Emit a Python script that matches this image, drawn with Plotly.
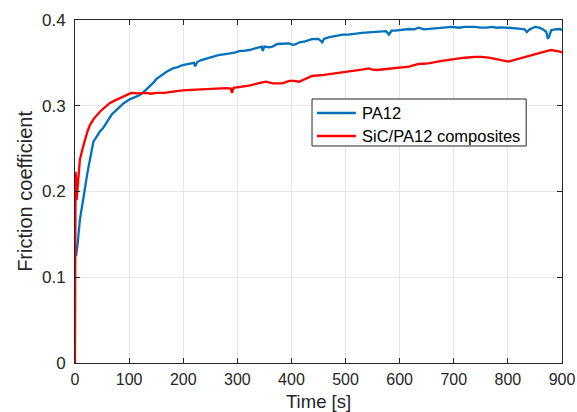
import plotly.graph_objects as go

# Friction coefficient vs. sliding time
t_pa12 = [2, 5, 9, 13, 18, 23, 28, 31, 34, 40, 46, 52, 58, 63, 68, 75, 83, 90, 101, 110,
          118, 125, 132, 138, 145, 150, 160, 170, 181, 190, 199, 210, 220, 222, 226, 232,
          242, 255, 265, 275, 285, 295, 305, 312, 322, 335, 345, 347, 350, 359, 365, 374,
          385, 396, 402, 407, 415, 425, 438, 450, 457, 460, 470, 482, 495, 505, 515, 530,
          543, 555, 565, 575, 580, 585, 592, 605, 617, 627, 635, 645, 653, 665, 675, 685,
          696, 710, 720, 730, 739, 750, 760, 770, 780, 788, 800, 810, 820, 831, 835, 840,
          850, 858, 865, 871, 874, 877, 880, 887, 896, 900]
mu_pa12 = [0.125, 0.14, 0.167, 0.185, 0.202, 0.222, 0.24, 0.252, 0.258, 0.264, 0.27, 0.274,
           0.28, 0.285, 0.29, 0.294, 0.299, 0.303, 0.3075, 0.31, 0.312, 0.315, 0.319, 0.323,
           0.327, 0.331, 0.336, 0.34, 0.3435, 0.345, 0.3475, 0.349, 0.35, 0.346, 0.351, 0.353,
           0.355, 0.357, 0.359, 0.36, 0.361, 0.362, 0.364, 0.364, 0.365, 0.367, 0.369, 0.364,
           0.369, 0.368, 0.369, 0.372, 0.372, 0.3727, 0.371, 0.3715, 0.374, 0.375, 0.3778,
           0.378, 0.374, 0.378, 0.38, 0.3817, 0.383, 0.383, 0.384, 0.385, 0.3855, 0.386,
           0.387, 0.387, 0.383, 0.3875, 0.3876, 0.389, 0.3895, 0.389, 0.391, 0.389, 0.3895,
           0.39, 0.391, 0.391, 0.392, 0.391, 0.392, 0.392, 0.392, 0.391, 0.391, 0.392, 0.391,
           0.3915, 0.391, 0.391, 0.39, 0.389, 0.386, 0.389, 0.392, 0.391, 0.389, 0.386, 0.378,
           0.382, 0.388, 0.389, 0.3895, 0.388]

t_sic = [0, 0.5, 1, 2, 3, 5, 9, 14, 18, 23, 27.6, 35, 46, 55, 64, 73, 83, 92, 104, 115,
         120, 132, 140, 150, 165, 181, 190, 199, 215, 230, 242, 255, 265, 280, 288, 290,
         293, 305, 322, 340, 353, 365, 374, 383, 396, 405, 414, 425, 438, 460, 482, 500,
         512, 530, 543, 550, 558, 575, 592, 605, 617, 635, 653, 675, 696, 720, 740, 751,
         765, 776, 790, 801, 815, 831, 850, 868, 880, 890, 896, 900]
mu_sic = [0.0, 0.10, 0.223, 0.215, 0.19, 0.205, 0.237, 0.25, 0.26, 0.27, 0.2775, 0.285,
          0.293, 0.298, 0.303, 0.306, 0.309, 0.312, 0.315, 0.3145, 0.3145, 0.315, 0.314,
          0.315, 0.315, 0.3165, 0.317, 0.318, 0.3185, 0.319, 0.3195, 0.3195, 0.32, 0.3205,
          0.32, 0.315, 0.321, 0.322, 0.3235, 0.3265, 0.328, 0.326, 0.326, 0.326, 0.329,
          0.329, 0.328, 0.331, 0.3347, 0.336, 0.3378, 0.339, 0.3405, 0.342, 0.3435, 0.342,
          0.3417, 0.343, 0.3435, 0.345, 0.3455, 0.3487, 0.3495, 0.352, 0.354, 0.356, 0.357,
          0.357, 0.356, 0.355, 0.353, 0.3514, 0.354, 0.357, 0.36, 0.363, 0.365, 0.364,
          0.363, 0.362]

x_ticks = [0, 100, 200, 300, 400, 500, 600, 700, 800, 900]
y_ticks = [0, 0.1, 0.2, 0.3, 0.4]
y_tick_text = ["0", "0.1", "0.2", "0.3", "0.4"]

series_names = ["PA12", "SiC/PA12 composites"]
series_colors = ["#0072BD", "#FF0000"]

FONT = "Liberation Sans, Arial, Helvetica, sans-serif"
AXIS_COLOR = "#262626"
LINE_W = 2.3

fig = go.Figure()
for t, mu, name, color in zip([t_pa12, t_sic], [mu_pa12, mu_sic], series_names, series_colors):
    fig.add_trace(go.Scatter(x=t, y=mu, mode="lines", name=name,
                             line=dict(color=color, width=LINE_W), showlegend=False))

axis_common = dict(
    showline=True, linecolor=AXIS_COLOR, linewidth=1, mirror="allticks",
    ticks="inside", ticklen=5, tickcolor=AXIS_COLOR,
    showgrid=True, gridcolor="#e6e6e6", gridwidth=1,
    zeroline=False, automargin=False, ticklabeloverflow="allow",
)

# Boxed legend in the upper-middle of the axes (paper coordinates)
LEG_X0, LEG_X1 = 0.4867, 0.9264
LEG_Y0, LEG_Y1 = 0.6327, 0.7697
SAMPLE_X0, SAMPLE_X1 = 0.4969, 0.5767
TEXT_X = 0.5849
ROW_Y = [0.7289, 0.6618]

shapes = [dict(type="rect", xref="paper", yref="paper",
               x0=LEG_X0, x1=LEG_X1, y0=LEG_Y0, y1=LEG_Y1,
               line=dict(color=AXIS_COLOR, width=1), fillcolor="white", layer="above")]
annotations = []
for name, color, ry in zip(series_names, series_colors, ROW_Y):
    shapes.append(dict(type="line", xref="paper", yref="paper",
                       x0=SAMPLE_X0, x1=SAMPLE_X1, y0=ry, y1=ry,
                       line=dict(color=color, width=LINE_W), layer="above"))
    annotations.append(dict(xref="paper", yref="paper", x=TEXT_X, y=ry,
                            xanchor="left", yanchor="middle", showarrow=False,
                            text=name, font=dict(family=FONT, size=16.5, color="#000000")))

# Axis titles
annotations.append(dict(xref="paper", yref="paper", x=0.5, y=-0.112,
                        xanchor="center", yanchor="middle", showarrow=False,
                        text="Time [s]", font=dict(family=FONT, size=18.5, color=AXIS_COLOR)))
annotations.append(dict(xref="paper", yref="paper", x=-0.104, y=0.5,
                        xanchor="center", yanchor="middle", showarrow=False, textangle=-90,
                        text="Friction coefficient",
                        font=dict(family=FONT, size=20, color=AXIS_COLOR)))

fig.update_layout(
    width=577, height=412,
    margin=dict(l=75, r=15, t=20, b=49),
    paper_bgcolor="white", plot_bgcolor="white",
    font=dict(family=FONT, color=AXIS_COLOR),
    xaxis=dict(range=[0, 900], tickvals=x_ticks, ticklabelstandoff=2,
               tickfont=dict(family=FONT, size=16, color=AXIS_COLOR), **axis_common),
    yaxis=dict(range=[0, 0.4], tickvals=y_ticks, ticktext=y_tick_text, ticklabelstandoff=5,
               tickfont=dict(family=FONT, size=17, color=AXIS_COLOR), **axis_common),
    shapes=shapes,
    annotations=annotations,
    showlegend=False,
)

fig.write_html("out.html")
